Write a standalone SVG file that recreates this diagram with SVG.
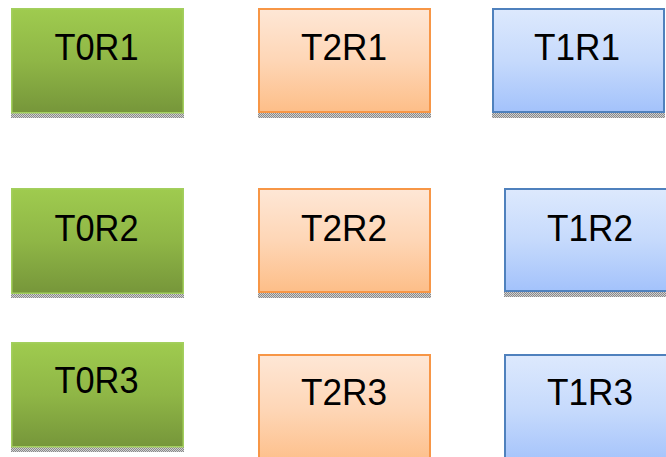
<svg xmlns="http://www.w3.org/2000/svg" width="666" height="457" viewBox="0 0 666 457">
<defs>
<linearGradient id="gGreen" x1="0" y1="0" x2="0" y2="1">
<stop offset="0" stop-color="#9fcb4f"/>
<stop offset="0.5" stop-color="#8fb646"/>
<stop offset="1" stop-color="#76963a"/>
</linearGradient>
<linearGradient id="gOrange" x1="0" y1="0" x2="0" y2="1">
<stop offset="0" stop-color="#fee7d6"/>
<stop offset="0.5" stop-color="#fed6b6"/>
<stop offset="1" stop-color="#fdbe88"/>
</linearGradient>
<linearGradient id="gBlue" x1="0" y1="0" x2="0" y2="1">
<stop offset="0" stop-color="#dde9fd"/>
<stop offset="0.5" stop-color="#c6dafc"/>
<stop offset="1" stop-color="#a3c2fb"/>
</linearGradient>
<pattern id="checker" width="2" height="2" patternUnits="userSpaceOnUse">
<rect width="2" height="2" fill="#d0d0d0"/>
<rect width="1" height="1" fill="#8a8a8a"/>
<rect x="1" y="1" width="1" height="1" fill="#8a8a8a"/>
</pattern>
</defs>
<style>
.green{fill:url(#gGreen);stroke:#a3cf5e;stroke-width:1.5}
.orange{fill:url(#gOrange);stroke:#f79646;stroke-width:2}
.blue{fill:url(#gBlue);stroke:#4f81bd;stroke-width:2}
.shadow{fill:url(#checker)}
.lbl{font-family:"Liberation Sans",Arial,sans-serif;font-size:36px;fill:#000;text-anchor:middle}
</style>
<rect width="666" height="457" fill="#ffffff"/>
<g id="connectors"/>
<g id="T0R1">
<rect class="shadow" x="11" y="113" width="173" height="5"/>
<rect class="green" x="11.75" y="8.75" width="171.5" height="104"/>
<text class="lbl" x="96.5" y="60" textLength="84" lengthAdjust="spacingAndGlyphs">T0R1</text>
</g>
<g id="T2R1">
<rect class="shadow" x="258" y="113" width="173" height="5"/>
<rect class="orange" x="259" y="9" width="171" height="103"/>
<text class="lbl" x="344" y="60" textLength="86" lengthAdjust="spacingAndGlyphs">T2R1</text>
</g>
<g id="T1R1">
<rect class="shadow" x="492" y="113" width="173" height="5"/>
<rect class="blue" x="493" y="9" width="171" height="103"/>
<text class="lbl" x="577" y="60" textLength="86" lengthAdjust="spacingAndGlyphs">T1R1</text>
</g>
<g id="T0R2">
<rect class="shadow" x="11" y="293" width="173" height="5"/>
<rect class="green" x="11.75" y="188.75" width="171.5" height="104.5"/>
<text class="lbl" x="96.5" y="241" textLength="84" lengthAdjust="spacingAndGlyphs">T0R2</text>
</g>
<g id="T2R2">
<rect class="shadow" x="258" y="293" width="173" height="5"/>
<rect class="orange" x="259" y="189" width="171" height="103"/>
<text class="lbl" x="344" y="241" textLength="86" lengthAdjust="spacingAndGlyphs">T2R2</text>
</g>
<g id="T1R2">
<rect class="shadow" x="504" y="292" width="173" height="5"/>
<rect class="blue" x="505" y="189" width="171" height="102"/>
<text class="lbl" x="590" y="241" textLength="86" lengthAdjust="spacingAndGlyphs">T1R2</text>
</g>
<g id="T0R3">
<rect class="shadow" x="11" y="447" width="173" height="5"/>
<rect class="green" x="11.75" y="342.75" width="171.5" height="104"/>
<text class="lbl" x="96.5" y="393" textLength="84" lengthAdjust="spacingAndGlyphs">T0R3</text>
</g>
<g id="T2R3">
<rect class="orange" x="259" y="355" width="171" height="110"/>
<text class="lbl" x="344" y="405" textLength="86" lengthAdjust="spacingAndGlyphs">T2R3</text>
</g>
<g id="T1R3">
<rect class="blue" x="505" y="355" width="171" height="110"/>
<text class="lbl" x="590" y="405" textLength="86" lengthAdjust="spacingAndGlyphs">T1R3</text>
</g>
</svg>
